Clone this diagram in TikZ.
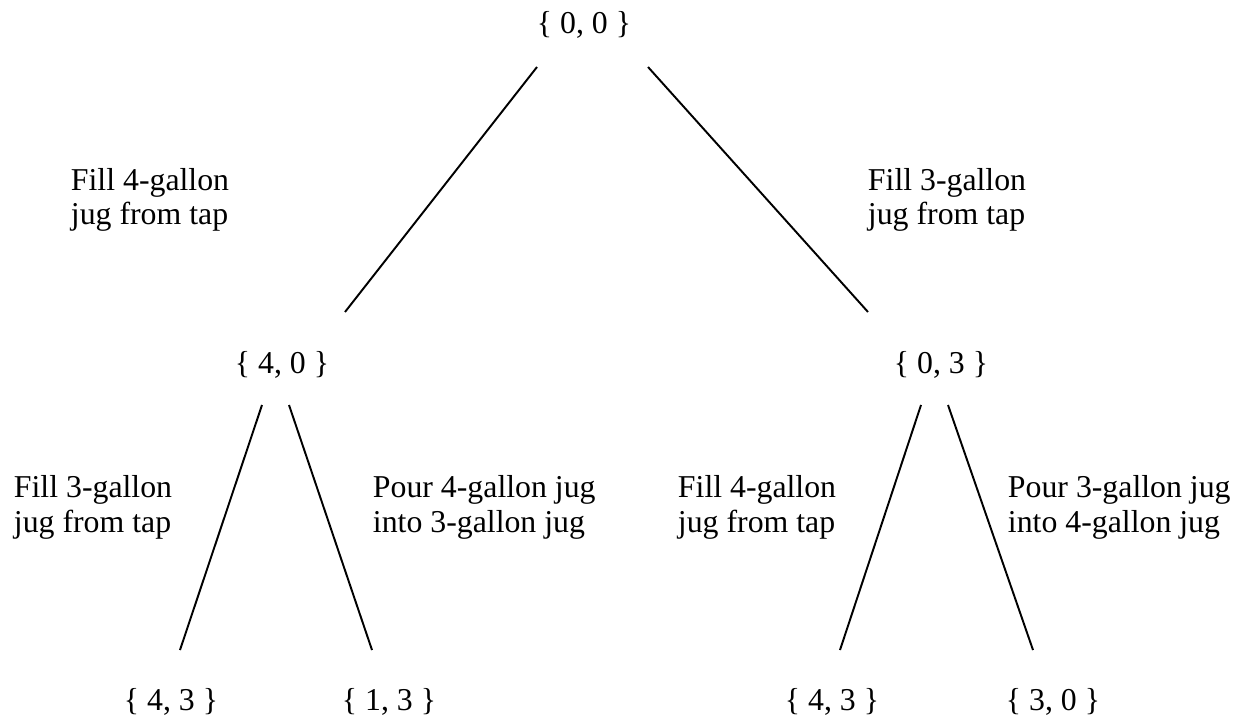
\documentclass[tikz,border=0pt]{standalone}
\usepackage{fontspec}
\setmainfont{Liberation Serif}
\usetikzlibrary{calc}

\begin{document}
\begin{tikzpicture}[x=0.02cm, y=-0.02cm, line width=1.1pt,
	state/.style={anchor=base, inner sep=0pt, font=\fontsize{18.1}{19.9}\selectfont},
	action/.style={anchor=base west, align=left, inner sep=0pt, font=\fontsize{18.1}{19.9}\selectfont}]
	\useasboundingbox (0,0) rectangle (1239,719);

	\node[state] (1) at (584,34)   {\{ 0, 0 \}};
	\node[state] (2) at (282,373)  {\{ 4, 0 \}};
	\node[state] (3) at (941,373)  {\{ 0, 3 \}};
	\node[state] (4) at (171,710)  {\{ 4, 3 \}};
	\node[state] (5) at (389,710)  {\{ 1, 3 \}};
	\node[state] (6) at (832,710)  {\{ 4, 3 \}};
	\node[state] (7) at (1053,710) {\{ 3, 0 \}};

	\node[action] (a1) at (70,225)   {Fill 4-gallon\\jug from tap};
	\node[action] (a2) at (867,225)  {Fill 3-gallon\\jug from tap};
	\node[action] (a3) at (13,532)   {Fill 3-gallon\\jug from tap};
	\node[action] (a4) at (372,532)  {Pour 4-gallon jug\\into 3-gallon jug};
	\node[action] (a5) at (677,532)  {Fill 4-gallon\\jug from tap};
	\node[action] (a6) at (1007,532) {Pour 3-gallon jug\\into 4-gallon jug};

	% tree edges
	\draw ($(1.base)+(-47,33)$) -- ($(2.base)+(63,-61)$);
	\draw ($(1.base)+(64,33)$)  -- ($(3.base)+(-73,-61)$);
	\draw ($(2.base)+(-20,32)$) -- ($(4.base)+(9,-60)$);
	\draw ($(2.base)+(7,32)$)   -- ($(5.base)+(-17,-60)$);
	\draw ($(3.base)+(-20,32)$) -- ($(6.base)+(8,-60)$);
	\draw ($(3.base)+(7,32)$)   -- ($(7.base)+(-20,-60)$);
\end{tikzpicture}
\end{document}
